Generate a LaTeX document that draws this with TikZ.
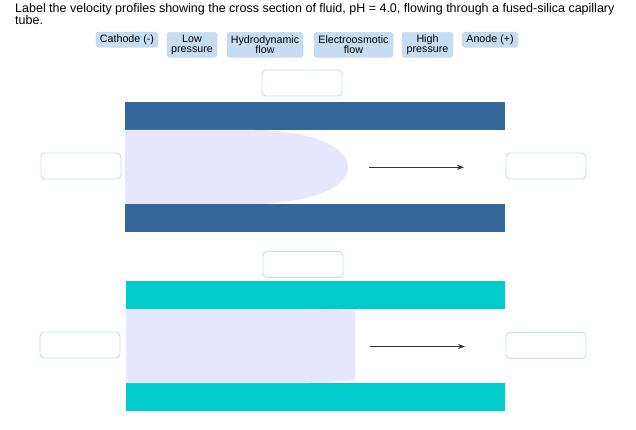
\documentclass[tikz,border=0pt]{standalone}
\usepackage{xcolor}
\usepackage{fontspec}
\setmainfont{Liberation Sans}
\usetikzlibrary{arrows.meta}

\definecolor{chipblue}{HTML}{C6DCF3}
\definecolor{chipedge}{HTML}{B6CFEC}
\definecolor{boxedge}{HTML}{C4DBF2}
\definecolor{wallblue}{HTML}{336699}
\definecolor{wallcyan}{HTML}{00CCCC}
\definecolor{fluid}{HTML}{E6E6FF}

\tikzset{
  chip/.style={draw=chipedge, fill=chipblue, rounded corners=3pt, inner sep=0pt,
    minimum height=15pt, align=center, font=\fontsize{10.7}{10.5}\selectfont},
  blank/.style={draw=boxedge, line width=0.9pt, fill=white, rounded corners=4pt,
    minimum width=80pt, minimum height=26pt, inner sep=0pt},
  flow/.style={draw=black!80, line width=0.8pt, -{Stealth[length=7pt,width=5pt]}}
}

\begin{document}
\begin{tikzpicture}[x=1pt,y=-1pt]
\useasboundingbox[fill=white] (0,0) rectangle (636,430);

% Question
\node[anchor=north west, inner sep=0pt, align=left, font=\fontsize{12.5}{12.5}\selectfont] (title) at (15,3)
  {Label the velocity profiles showing the cross section of fluid, pH = 4.0, flowing through a fused-silica capillary\\tube.};

% Answer chips
\node[chip, minimum width=62pt] (cathode) at (127,39.7) {Cathode (-)};
\node[chip, minimum width=50pt, minimum height=25pt] (lowp) at (192,44.8) {Low\\pressure};
\node[chip, minimum width=76pt, minimum height=25pt] (hydro) at (265,44.8) {Hydrodynamic\\flow};
\node[chip, minimum width=79pt, minimum height=25pt] (electro) at (353.5,44.8) {Electroosmotic\\flow};
\node[chip, minimum width=51pt, minimum height=25pt] (highp) at (427.5,44.8) {High\\pressure};
\node[chip, minimum width=56pt] (anode) at (490,39.7) {Anode (+)};

% Capillary 1
\fill[wallblue] (125,102) rectangle (505,130);
\fill[wallblue] (125,204) rectangle (505,232);
\fill[fluid] (125,130) -- (255,130) .. controls (322,132) and (348,150) .. (348,167)
  .. controls (348,184) and (322,202) .. (255,204) -- (125,204) -- cycle; % parabolic profile
\coordinate (a1) at (369,167.3);
\coordinate (b1) at (464,167.3);
\draw[flow] (a1) -- (b1);

\node[blank] (top1) at (302,83) {};
\node[blank] (left1) at (81,166) {};
\node[blank] (right1) at (546,166) {};

% Capillary 2
\fill[wallcyan] (126,281) rectangle (505,309);
\fill[wallcyan] (126,383) rectangle (505,411);
\fill[fluid] (126,309) -- (310,309) -- (355,311) -- (355,380) -- (310,383) -- (126,383) -- cycle; % plug profile
\coordinate (a2) at (370,346.5);
\coordinate (b2) at (465,346.5);
\draw[flow] (a2) -- (b2);

\node[blank] (top2) at (303,264.5) {};
\node[blank] (left2) at (80,345) {};
\node[blank] (right2) at (546,345.5) {};
\end{tikzpicture}
\end{document}
